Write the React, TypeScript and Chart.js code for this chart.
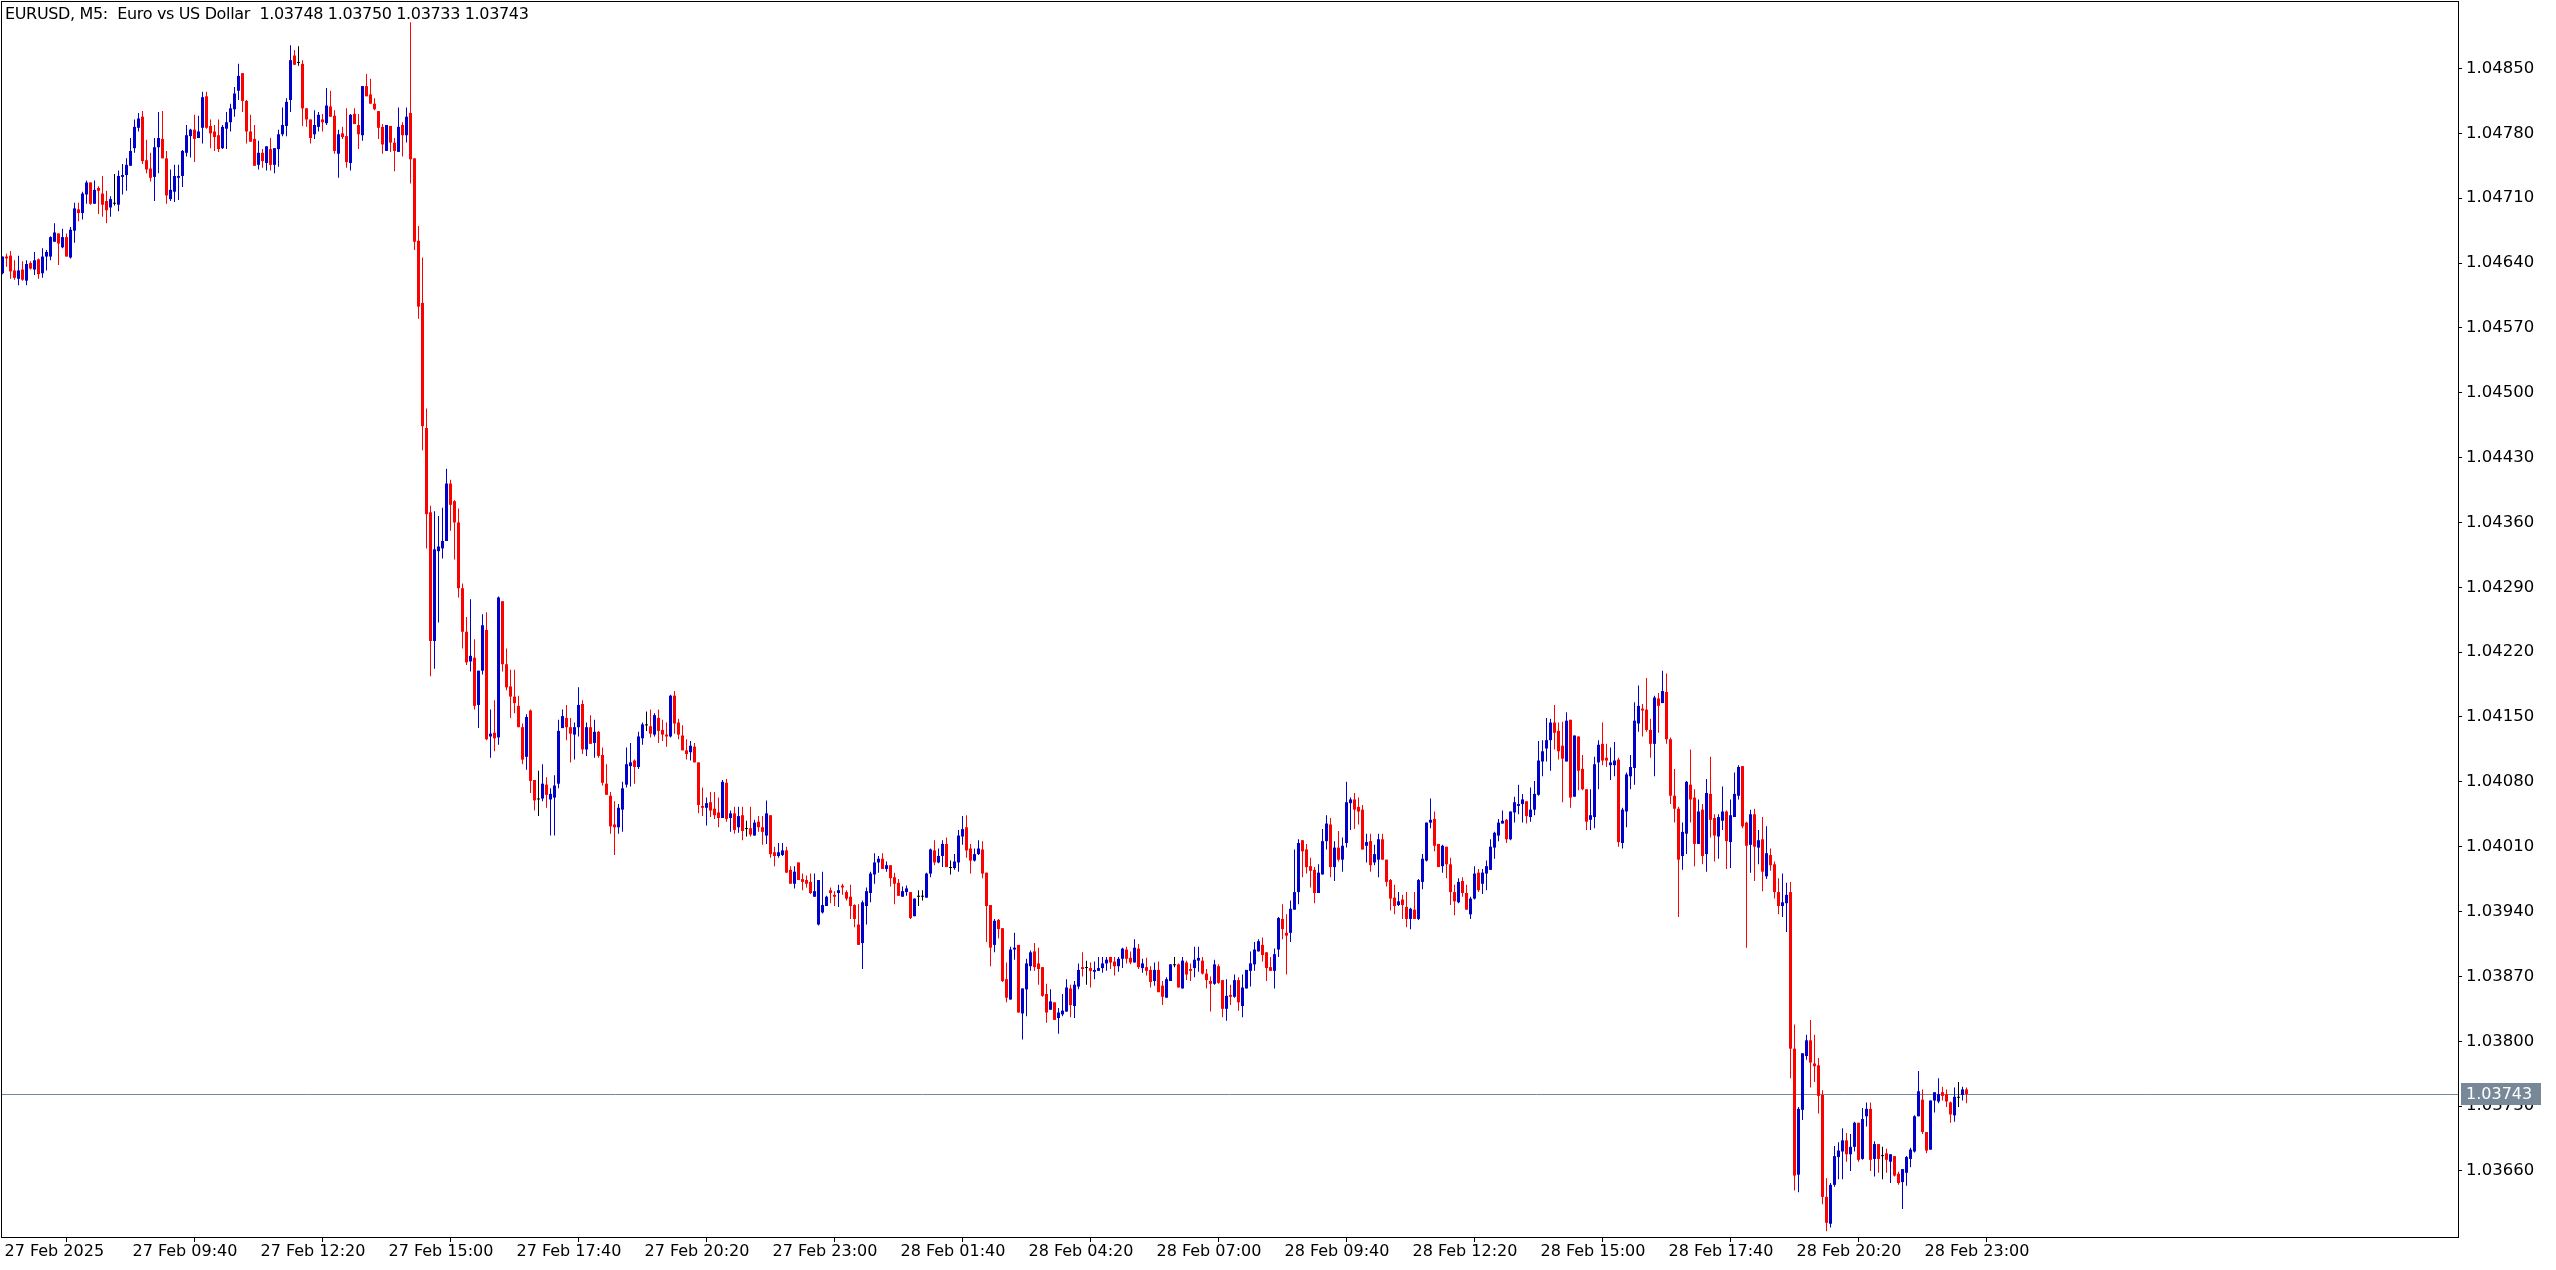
import React, { useEffect, useRef } from "react";
import { Chart, registerables } from "chart.js";
Chart.register(...registerables);

const chartTitle = "EURUSD, M5:  Euro vs US Dollar  1.03748 1.03750 1.03733 1.03743";
const lastPrice = 1.03743;

const xTickIndex = [0, 32, 64, 96, 128, 160, 192, 224, 256, 288, 320, 352, 384, 416, 448, 480];
const xTickLabels = [
  "27 Feb 2025", "27 Feb 09:40", "27 Feb 12:20", "27 Feb 15:00", "27 Feb 17:40", "27 Feb 20:20",
  "27 Feb 23:00", "28 Feb 01:40", "28 Feb 04:20", "28 Feb 07:00", "28 Feb 09:40", "28 Feb 12:20",
  "28 Feb 15:00", "28 Feb 17:40", "28 Feb 20:20", "28 Feb 23:00",
];
const yTickValues = [
  1.0366, 1.0373, 1.038, 1.0387, 1.0394, 1.0401, 1.0408, 1.0415, 1.0422,
  1.0429, 1.0436, 1.0443, 1.045, 1.0457, 1.0464, 1.0471, 1.0478, 1.0485,
];

const opens = [
1.04629,1.04647,1.04648,1.04632,1.04623,1.04633,1.04621,1.04640,1.04633,1.04644,
1.04629,1.04647,1.04647,1.04663,1.04672,1.04657,1.04668,1.04646,1.04675,1.04698,
1.04694,1.04714,1.04727,1.04704,1.04721,1.04715,1.04707,1.04700,1.04704,1.04703,
1.04733,1.04735,1.04745,1.04764,1.04786,1.04798,1.04751,1.04742,1.04733,1.04765,
1.04774,1.04753,1.04709,1.04717,1.04732,1.04734,1.04759,1.04777,1.04784,1.04775,
1.04786,1.04820,1.04788,1.04782,1.04778,1.04764,1.04785,1.04792,1.04806,1.04826,
1.04845,1.04815,1.04782,1.04774,1.04746,1.04759,1.04748,1.04763,1.04746,1.04763,
1.04779,1.04788,1.04816,1.04864,1.04856,1.04855,1.04807,1.04795,1.04779,1.04787,
1.04795,1.04791,1.04809,1.04799,1.04758,1.04780,1.04777,1.04748,1.04801,1.04789,
1.04778,1.04831,1.04822,1.04812,1.04804,1.04787,1.04761,1.04788,1.04770,1.04760,
1.04789,1.04778,1.04802,1.04753,1.04664,1.04597,1.04462,1.04371,1.04232,1.04329,
1.04332,1.04340,1.04402,1.04383,1.04360,1.04289,1.04242,1.04210,1.04214,1.04163,
1.04200,1.04244,1.04129,1.04133,1.04128,1.04275,1.04207,1.04183,1.04172,1.04162,
1.04139,1.04107,1.04157,1.04082,1.04061,1.04062,1.04077,1.04061,1.04063,1.04078,
1.04138,1.04149,1.04139,1.04131,1.04139,1.04164,1.04115,1.04139,1.04122,1.04134,
1.04109,1.04078,1.04065,1.04034,1.04031,1.04050,1.04077,1.04097,1.04103,1.04096,
1.04127,1.04141,1.04140,1.04131,1.04149,1.04136,1.04131,1.04129,1.04173,1.04144,
1.04130,1.04114,1.04112,1.04118,1.04101,1.04054,1.04052,1.04058,1.04051,1.04047,
1.04041,1.04079,1.04041,1.04046,1.04031,1.04044,1.04029,1.04030,1.04022,1.04037,
1.04031,1.04022,1.04044,1.04004,1.04000,1.04001,1.04006,1.03985,1.03970,1.03993,
1.03975,1.03974,1.03972,1.03956,1.03926,1.03939,1.03946,1.03963,1.03958,1.03960,
1.03968,1.03961,1.03956,1.03947,1.03926,1.03906,1.03946,1.03960,1.03980,1.03993,
1.03997,1.03986,1.03990,1.03977,1.03971,1.03956,1.03961,1.03961,1.03935,1.03956,
1.03956,1.03955,1.03981,1.04006,1.03993,1.04000,1.04013,1.03987,1.03987,1.03993,
1.04021,1.04031,1.04008,1.03995,1.04002,1.04007,1.03982,1.03947,1.03904,1.03931,
1.03922,1.03867,1.03845,1.03899,1.03904,1.03830,1.03856,1.03881,1.03897,1.03884,
1.03880,1.03851,1.03834,1.03842,1.03825,1.03829,1.03832,1.03857,1.03838,1.03859,
1.03880,1.03879,1.03879,1.03875,1.03876,1.03879,1.03884,1.03891,1.03886,1.03881,
1.03889,1.03899,1.03890,1.03885,1.03900,1.03879,1.03880,1.03877,1.03865,1.03877,
1.03860,1.03847,1.03865,1.03882,1.03883,1.03857,1.03885,1.03878,1.03879,1.03887,
1.03887,1.03873,1.03865,1.03862,1.03881,1.03866,1.03835,1.03850,1.03848,1.03866,
1.03838,1.03857,1.03876,1.03883,1.03897,1.03904,1.03896,1.03880,1.03876,1.03899,
1.03932,1.03917,1.03917,1.03942,1.03961,1.04017,1.04007,1.03989,1.03985,1.03960,
1.03980,1.04016,1.04034,1.03988,1.04009,1.03996,1.04014,1.04057,1.04061,1.04053,
1.04050,1.04011,1.04016,1.03993,1.03996,1.04018,1.03996,1.03974,1.03955,1.03947,
1.03953,1.03945,1.03932,1.03942,1.03932,1.03972,1.03995,1.04036,1.04040,1.04013,
1.03989,1.04010,1.03991,1.03961,1.03950,1.03973,1.03960,1.03937,1.03954,1.03982,
1.03970,1.03981,1.03985,1.04009,1.04022,1.04035,1.04039,1.04018,1.04047,1.04054,
1.04056,1.04059,1.04042,1.04050,1.04066,1.04102,1.04116,1.04125,1.04144,1.04135,
1.04119,1.04102,1.04147,1.04064,1.04129,1.04094,1.04072,1.04039,1.04042,1.04101,
1.04121,1.04106,1.04098,1.04098,1.04104,1.04014,1.04048,1.04086,1.04095,1.04143,
1.04159,1.04158,1.04136,1.04121,1.04170,1.04165,1.04177,1.04126,1.04065,1.04051,
1.04000,1.04024,1.04077,1.04063,1.04013,1.04050,1.04002,1.04067,1.04041,1.04021,
1.04038,1.04048,1.04015,1.04042,1.04065,1.04097,1.04036,1.04012,1.04045,1.04009,
1.04018,1.03978,1.04001,1.03991,1.03961,1.03946,1.03949,1.03961,1.03792,1.03656,
1.03726,1.03784,1.03801,1.03776,1.03774,1.03742,1.03632,1.03603,1.03645,1.03675,
1.03681,1.03693,1.03678,1.03686,1.03712,1.03673,1.03719,1.03727,1.03673,1.03689,
1.03676,1.03679,1.03670,1.03676,1.03657,1.03648,1.03658,1.03673,1.03681,1.03719,
1.03737,1.03702,1.03683,1.03736,1.03735,1.03745,1.03743,1.03734,1.03720,1.03739,
1.03742,1.03748,
];

const highs = [
1.04647,1.04650,1.04653,1.04643,1.04648,1.04642,1.04643,1.04642,1.04652,1.04645,
1.04656,1.04654,1.04669,1.04683,1.04672,1.04677,1.04672,1.04679,1.04705,1.04705,
1.04717,1.04729,1.04727,1.04729,1.04723,1.04734,1.04718,1.04712,1.04736,1.04740,
1.04747,1.04753,1.04775,1.04795,1.04802,1.04804,1.04773,1.04759,1.04775,1.04803,
1.04804,1.04761,1.04741,1.04746,1.04746,1.04762,1.04789,1.04785,1.04800,1.04799,
1.04825,1.04825,1.04795,1.04789,1.04795,1.04789,1.04803,1.04812,1.04830,1.04855,
1.04845,1.04816,1.04800,1.04789,1.04772,1.04763,1.04766,1.04775,1.04764,1.04784,
1.04808,1.04818,1.04875,1.04870,1.04874,1.04859,1.04807,1.04795,1.04805,1.04803,
1.04801,1.04829,1.04826,1.04805,1.04784,1.04787,1.04807,1.04801,1.04807,1.04801,
1.04831,1.04844,1.04839,1.04818,1.04804,1.04790,1.04789,1.04788,1.04775,1.04808,
1.04792,1.04808,1.04900,1.04753,1.04680,1.04646,1.04483,1.04378,1.04372,1.04367,
1.04376,1.04418,1.04406,1.04384,1.04375,1.04294,1.04258,1.04277,1.04234,1.04200,
1.04261,1.04263,1.04158,1.04168,1.04280,1.04275,1.04224,1.04201,1.04201,1.04173,
1.04143,1.04153,1.04158,1.04082,1.04092,1.04099,1.04085,1.04073,1.04087,1.04147,
1.04158,1.04163,1.04149,1.04144,1.04182,1.04168,1.04144,1.04152,1.04147,1.04135,
1.04117,1.04099,1.04069,1.04059,1.04056,1.04080,1.04117,1.04122,1.04104,1.04134,
1.04144,1.04156,1.04158,1.04154,1.04158,1.04147,1.04144,1.04174,1.04178,1.04148,
1.04141,1.04126,1.04124,1.04122,1.04101,1.04074,1.04063,1.04069,1.04069,1.04063,
1.04082,1.04083,1.04049,1.04053,1.04053,1.04053,1.04038,1.04053,1.04039,1.04043,
1.04043,1.04060,1.04044,1.04010,1.04014,1.04014,1.04010,1.03989,1.03989,1.03993,
1.03981,1.03979,1.03981,1.03981,1.03974,1.03983,1.03957,1.03966,1.03962,1.03969,
1.03970,1.03963,1.03969,1.03948,1.03948,1.03952,1.03966,1.03983,1.04003,1.04000,
1.04003,1.03994,1.03990,1.03982,1.03975,1.03967,1.03968,1.03961,1.03954,1.03963,
1.03963,1.03982,1.04008,1.04017,1.04008,1.04017,1.04020,1.03995,1.04002,1.04028,
1.04043,1.04044,1.04013,1.04008,1.04017,1.04016,1.03982,1.03947,1.03932,1.03932,
1.03922,1.03885,1.03902,1.03917,1.03904,1.03857,1.03889,1.03898,1.03906,1.03901,
1.03880,1.03862,1.03856,1.03842,1.03836,1.03851,1.03867,1.03861,1.03865,1.03884,
1.03896,1.03887,1.03885,1.03886,1.03891,1.03891,1.03891,1.03891,1.03891,1.03891,
1.03901,1.03902,1.03897,1.03910,1.03905,1.03889,1.03890,1.03881,1.03885,1.03886,
1.03865,1.03869,1.03883,1.03891,1.03884,1.03891,1.03887,1.03884,1.03902,1.03902,
1.03891,1.03878,1.03870,1.03888,1.03883,1.03866,1.03867,1.03861,1.03872,1.03869,
1.03872,1.03877,1.03897,1.03907,1.03910,1.03912,1.03896,1.03891,1.03900,1.03934,
1.03948,1.03937,1.03952,1.04007,1.04018,1.04017,1.04013,1.03998,1.03988,1.03991,
1.04029,1.04044,1.04041,1.04016,1.04027,1.04020,1.04080,1.04063,1.04068,1.04063,
1.04055,1.04024,1.04024,1.04012,1.04024,1.04024,1.03996,1.03975,1.03969,1.03961,
1.03958,1.03961,1.03944,1.03961,1.03975,1.04002,1.04036,1.04062,1.04048,1.04013,
1.04012,1.04010,1.03998,1.03969,1.03976,1.03977,1.03969,1.03956,1.03989,1.03986,
1.03986,1.03995,1.04018,1.04026,1.04040,1.04049,1.04040,1.04048,1.04064,1.04077,
1.04067,1.04059,1.04074,1.04081,1.04124,1.04125,1.04149,1.04148,1.04163,1.04144,
1.04145,1.04155,1.04147,1.04130,1.04129,1.04109,1.04072,1.04072,1.04107,1.04125,
1.04144,1.04121,1.04117,1.04123,1.04106,1.04052,1.04090,1.04109,1.04166,1.04184,
1.04164,1.04192,1.04148,1.04173,1.04176,1.04200,1.04197,1.04128,1.04094,1.04053,
1.04036,1.04081,1.04115,1.04072,1.04061,1.04056,1.04083,1.04107,1.04045,1.04045,
1.04075,1.04049,1.04061,1.04090,1.04098,1.04097,1.04037,1.04050,1.04051,1.04028,
1.04042,1.04032,1.04008,1.03994,1.03976,1.03981,1.03971,1.03972,1.03818,1.03729,
1.03787,1.03807,1.03823,1.03807,1.03782,1.03747,1.03652,1.03647,1.03687,1.03691,
1.03706,1.03701,1.03700,1.03713,1.03712,1.03728,1.03734,1.03734,1.03692,1.03689,
1.03686,1.03684,1.03678,1.03676,1.03659,1.03662,1.03676,1.03685,1.03720,1.03768,
1.03748,1.03702,1.03736,1.03745,1.03760,1.03751,1.03748,1.03735,1.03750,1.03756,
1.03751,1.03750,
];

const lows = [
1.04628,1.04636,1.04623,1.04622,1.04616,1.04621,1.04616,1.04633,1.04627,1.04623,
1.04624,1.04632,1.04643,1.04663,1.04638,1.04656,1.04647,1.04645,1.04662,1.04685,
1.04687,1.04704,1.04703,1.04704,1.04693,1.04690,1.04683,1.04690,1.04702,1.04696,
1.04714,1.04718,1.04745,1.04759,1.04782,1.04747,1.04737,1.04728,1.04707,1.04737,
1.04753,1.04704,1.04707,1.04706,1.04708,1.04722,1.04755,1.04754,1.04749,1.04775,
1.04769,1.04785,1.04764,1.04761,1.04760,1.04763,1.04763,1.04782,1.04798,1.04816,
1.04803,1.04769,1.04771,1.04745,1.04741,1.04743,1.04740,1.04740,1.04737,1.04744,
1.04777,1.04777,1.04803,1.04854,1.04853,1.04788,1.04787,1.04769,1.04774,1.04782,
1.04782,1.04789,1.04798,1.04758,1.04732,1.04774,1.04743,1.04740,1.04790,1.04763,
1.04772,1.04820,1.04812,1.04805,1.04774,1.04758,1.04761,1.04760,1.04739,1.04760,
1.04755,1.04770,1.04726,1.04654,1.04580,1.04438,1.04332,1.04194,1.04202,1.04252,
1.04321,1.04340,1.04351,1.04320,1.04279,1.04224,1.04206,1.04199,1.04158,1.04138,
1.04196,1.04125,1.04106,1.04113,1.04120,1.04199,1.04179,1.04149,1.04154,1.04139,
1.04099,1.04093,1.04068,1.04049,1.04043,1.04059,1.04052,1.04022,1.04022,1.04073,
1.04138,1.04125,1.04101,1.04104,1.04129,1.04110,1.04108,1.04121,1.04106,1.04106,
1.04076,1.04066,1.04024,1.04001,1.04024,1.04026,1.04074,1.04075,1.04078,1.04094,
1.04120,1.04135,1.04128,1.04129,1.04122,1.04124,1.04118,1.04128,1.04132,1.04126,
1.04114,1.04104,1.04103,1.04101,1.04046,1.04043,1.04033,1.04042,1.04040,1.04031,
1.04041,1.04037,1.04026,1.04024,1.04025,1.04017,1.04021,1.04021,1.04022,1.04026,
1.04012,1.04013,1.03998,1.03989,1.03998,1.04000,1.03982,1.03970,1.03965,1.03974,
1.03963,1.03966,1.03959,1.03956,1.03925,1.03938,1.03946,1.03949,1.03946,1.03945,
1.03958,1.03952,1.03932,1.03923,1.03904,1.03878,1.03926,1.03950,1.03970,1.03982,
1.03986,1.03983,1.03967,1.03948,1.03957,1.03956,1.03957,1.03932,1.03935,1.03946,
1.03952,1.03955,1.03977,1.03990,1.03992,1.03988,1.03988,1.03980,1.03985,1.03983,
1.04012,1.03998,1.03981,1.03994,1.04001,1.03976,1.03907,1.03881,1.03896,1.03911,
1.03864,1.03842,1.03845,1.03888,1.03831,1.03802,1.03827,1.03876,1.03876,1.03861,
1.03848,1.03820,1.03834,1.03823,1.03808,1.03827,1.03832,1.03826,1.03825,1.03856,
1.03870,1.03861,1.03858,1.03867,1.03876,1.03874,1.03876,1.03878,1.03871,1.03875,
1.03879,1.03884,1.03883,1.03885,1.03878,1.03874,1.03871,1.03858,1.03860,1.03853,
1.03839,1.03847,1.03865,1.03880,1.03858,1.03857,1.03866,1.03865,1.03869,1.03875,
1.03872,1.03857,1.03832,1.03861,1.03862,1.03826,1.03822,1.03839,1.03847,1.03833,
1.03826,1.03857,1.03859,1.03876,1.03897,1.03886,1.03865,1.03876,1.03857,1.03891,
1.03910,1.03872,1.03907,1.03942,1.03948,1.03977,1.03981,1.03966,1.03949,1.03960,
1.03980,1.04007,1.03977,1.03973,1.03994,1.03983,1.04009,1.04028,1.04029,1.04034,
1.04007,1.03993,1.03983,1.03990,1.03977,1.03996,1.03967,1.03941,1.03937,1.03946,
1.03932,1.03923,1.03921,1.03932,1.03931,1.03964,1.03994,1.04030,1.04005,1.03988,
1.03982,1.03976,1.03947,1.03936,1.03949,1.03956,1.03942,1.03932,1.03953,1.03961,
1.03959,1.03963,1.03985,1.03997,1.04016,1.04035,1.04014,1.04017,1.04036,1.04045,
1.04036,1.04035,1.04037,1.04044,1.04065,1.04086,1.04102,1.04092,1.04115,1.04104,
1.04058,1.04102,1.04052,1.04064,1.04071,1.04071,1.04028,1.04028,1.04030,1.04072,
1.04098,1.04096,1.04082,1.04086,1.04010,1.04008,1.04031,1.04072,1.04077,1.04134,
1.04129,1.04134,1.04106,1.04086,1.04133,1.04165,1.04121,1.04056,1.04036,1.03934,
1.03985,1.04002,1.04036,1.03989,1.04013,1.03991,1.03983,1.04020,1.03994,1.03997,
1.04028,1.03986,1.03987,1.04042,1.04061,1.04030,1.03901,1.03982,1.03973,1.03991,
1.03962,1.03975,1.03984,1.03954,1.03937,1.03934,1.03918,1.03760,1.03639,1.03637,
1.03715,1.03780,1.03750,1.03756,1.03722,1.03624,1.03595,1.03599,1.03643,1.03651,
1.03651,1.03670,1.03660,1.03681,1.03670,1.03672,1.03708,1.03660,1.03654,1.03658,
1.03651,1.03658,1.03647,1.03654,1.03645,1.03619,1.03644,1.03664,1.03680,1.03719,
1.03700,1.03679,1.03683,1.03723,1.03733,1.03736,1.03729,1.03712,1.03713,1.03729,
1.03736,1.03733,
];

const closes = [
1.04647,1.04645,1.04631,1.04624,1.04632,1.04622,1.04639,1.04634,1.04643,1.04628,
1.04647,1.04652,1.04668,1.04673,1.04661,1.04668,1.04647,1.04676,1.04699,1.04694,
1.04715,1.04727,1.04704,1.04719,1.04718,1.04703,1.04697,1.04709,1.04704,1.04734,
1.04735,1.04746,1.04761,1.04787,1.04796,1.04750,1.04741,1.04732,1.04765,1.04775,
1.04753,1.04713,1.04719,1.04734,1.04734,1.04761,1.04778,1.04784,1.04774,1.04782,
1.04819,1.04786,1.04780,1.04776,1.04763,1.04787,1.04792,1.04807,1.04823,1.04842,
1.04815,1.04782,1.04771,1.04745,1.04759,1.04750,1.04766,1.04746,1.04764,1.04779,
1.04789,1.04814,1.04859,1.04854,1.04856,1.04807,1.04795,1.04775,1.04789,1.04800,
1.04792,1.04810,1.04798,1.04761,1.04779,1.04776,1.04749,1.04800,1.04790,1.04779,
1.04831,1.04820,1.04812,1.04806,1.04786,1.04768,1.04789,1.04770,1.04761,1.04787,
1.04778,1.04798,1.04752,1.04663,1.04593,1.04464,1.04369,1.04232,1.04331,1.04334,
1.04340,1.04402,1.04379,1.04360,1.04289,1.04242,1.04209,1.04216,1.04162,1.04200,
1.04249,1.04126,1.04132,1.04127,1.04279,1.04207,1.04182,1.04172,1.04165,1.04139,
1.04104,1.04150,1.04081,1.04060,1.04061,1.04078,1.04066,1.04067,1.04076,1.04135,
1.04151,1.04139,1.04132,1.04139,1.04163,1.04115,1.04139,1.04121,1.04134,1.04108,
1.04079,1.04066,1.04032,1.04031,1.04052,1.04073,1.04099,1.04101,1.04096,1.04129,
1.04142,1.04141,1.04132,1.04152,1.04135,1.04131,1.04129,1.04173,1.04143,1.04131,
1.04114,1.04110,1.04119,1.04101,1.04055,1.04052,1.04057,1.04049,1.04044,1.04041,
1.04080,1.04040,1.04046,1.04028,1.04043,1.04027,1.04029,1.04023,1.04036,1.04031,
1.04026,1.04046,1.04002,1.04000,1.04004,1.04006,1.03982,1.03970,1.03983,1.03974,
1.03972,1.03970,1.03960,1.03962,1.03974,1.03947,1.03956,1.03960,1.03956,1.03963,
1.03966,1.03954,1.03946,1.03932,1.03904,1.03950,1.03962,1.03981,1.03993,1.03997,
1.03986,1.03990,1.03976,1.03970,1.03957,1.03962,1.03965,1.03933,1.03954,1.03956,
1.03956,1.03981,1.04007,1.03993,1.04000,1.04013,1.03988,1.03987,1.03994,1.04022,
1.04029,1.04006,1.03995,1.04002,1.04008,1.03981,1.03946,1.03901,1.03930,1.03921,
1.03865,1.03847,1.03899,1.03901,1.03831,1.03857,1.03884,1.03896,1.03880,1.03878,
1.03849,1.03831,1.03843,1.03823,1.03831,1.03833,1.03858,1.03839,1.03861,1.03877,
1.03878,1.03879,1.03876,1.03877,1.03879,1.03884,1.03888,1.03885,1.03881,1.03889,
1.03900,1.03889,1.03885,1.03901,1.03880,1.03884,1.03876,1.03864,1.03877,1.03853,
1.03848,1.03867,1.03883,1.03882,1.03858,1.03887,1.03872,1.03876,1.03888,1.03890,
1.03873,1.03866,1.03862,1.03883,1.03863,1.03835,1.03849,1.03848,1.03866,1.03842,
1.03858,1.03877,1.03884,1.03899,1.03908,1.03893,1.03879,1.03876,1.03894,1.03933,
1.03921,1.03914,1.03943,1.03961,1.04014,1.04005,1.03988,1.03984,1.03960,1.03982,
1.04016,1.04035,1.03988,1.04009,1.03996,1.04011,1.04058,1.04061,1.04050,1.04048,
1.04007,1.04015,1.03990,1.04002,1.04018,1.03996,1.03972,1.03954,1.03946,1.03951,
1.03947,1.03932,1.03943,1.03932,1.03974,1.03997,1.04036,1.04039,1.04011,1.03988,
1.04011,1.03991,1.03961,1.03951,1.03972,1.03960,1.03942,1.03954,1.03981,1.03963,
1.03982,1.03989,1.04010,1.04025,1.04036,1.04038,1.04018,1.04048,1.04058,1.04056,
1.04061,1.04043,1.04050,1.04067,1.04103,1.04113,1.04125,1.04144,1.04133,1.04113,
1.04105,1.04146,1.04063,1.04130,1.04092,1.04072,1.04037,1.04044,1.04099,1.04120,
1.04103,1.04103,1.04101,1.04103,1.04015,1.04050,1.04088,1.04096,1.04146,1.04162,
1.04157,1.04136,1.04121,1.04171,1.04162,1.04178,1.04126,1.04065,1.04051,1.03996,
1.04026,1.04080,1.04061,1.04013,1.04048,1.04000,1.04068,1.04039,1.04022,1.04042,
1.04048,1.04016,1.04044,1.04067,1.04096,1.04032,1.04011,1.04045,1.04010,1.04017,
1.03983,1.04003,1.03990,1.03961,1.03946,1.03950,1.03958,1.03792,1.03655,1.03727,
1.03787,1.03801,1.03777,1.03773,1.03741,1.03632,1.03604,1.03645,1.03676,1.03682,
1.03693,1.03678,1.03686,1.03712,1.03672,1.03716,1.03727,1.03672,1.03689,1.03673,
1.03676,1.03672,1.03678,1.03655,1.03647,1.03662,1.03675,1.03683,1.03719,1.03746,
1.03702,1.03682,1.03736,1.03745,1.03743,1.03741,1.03735,1.03721,1.03740,1.03739,
1.03748,1.03743,
];

const W = 2556;
const H = 1270;
const AXIS_W = 98;
const AXIS_H = 33;
const BULL = "#0000cc";
const BEAR = "#ff0000";
const DOJI = "#000000";
const PRICE_LINE = "#778899";
const FONT = "DejaVu Sans";
const Y_MIN = 1.035887;
const Y_MAX = 1.0492286;
const X_MIN = -0.375;
const X_MAX = X_MIN + (W - AXIS_W - 1) / 4;

export default function App() {
  const ref = useRef<HTMLCanvasElement>(null);

  useEffect(() => {
    document.body.style.margin = "0";
    const canvas = ref.current;
    if (!canvas) return;

    const colors = opens.map((o, i) => (closes[i] > o ? BULL : closes[i] < o ? BEAR : DOJI));
    const bodyData = opens.map((o, i) => ({ x: i, y: [o, closes[i]] }));
    const wickData = lows.map((l, i) => ({ x: i, y: [l, highs[i]] }));

    const decor = {
      id: "mtDecor",
      beforeDatasetsDraw(chart: any) {
        const { ctx, chartArea, scales } = chart;
        const y = Math.round(scales.y.getPixelForValue(lastPrice)) + 0.5;
        ctx.save();
        ctx.strokeStyle = PRICE_LINE;
        ctx.lineWidth = 1;
        ctx.beginPath();
        ctx.moveTo(chartArea.left, y);
        ctx.lineTo(chartArea.right, y);
        ctx.stroke();
        ctx.restore();
      },
      afterDraw(chart: any) {
        const { ctx, chartArea, scales } = chart;
        ctx.save();
        ctx.strokeStyle = "#000";
        ctx.lineWidth = 1;
        ctx.strokeRect(
          chartArea.left + 0.5,
          chartArea.top + 0.5,
          chartArea.right - chartArea.left,
          chartArea.bottom - chartArea.top
        );
        ctx.fillStyle = "#000";
        ctx.font = `16px "${FONT}"`;
        ctx.textAlign = "left";
        ctx.textBaseline = "alphabetic";
        try { (ctx as any).letterSpacing = "-0.35px"; } catch (e) { /* ignore */ }
        ctx.fillText(chartTitle, 5, 19);
        try { (ctx as any).letterSpacing = "0px"; } catch (e) { /* ignore */ }
        const y = Math.round(scales.y.getPixelForValue(lastPrice));
        ctx.fillStyle = PRICE_LINE;
        ctx.fillRect(chartArea.right + 3, y - 11, 80, 22);
        ctx.fillStyle = "#ffffff";
        ctx.textBaseline = "middle";
        ctx.fillText(lastPrice.toFixed(5), chartArea.right + 8, y + 1);
        ctx.restore();
      },
    };

    const tickFont = { family: FONT, size: 16 };

    const chart = new Chart(canvas, {
      type: "bar",
      data: {
        datasets: [
          {
            data: bodyData as any,
            backgroundColor: colors,
            borderWidth: 0,
            grouped: false,
            categoryPercentage: 1,
            barPercentage: 0.75,
            maxBarThickness: 3,
            minBarLength: 1,
            inflateAmount: 0,
            order: 0,
          } as any,
          {
            data: wickData as any,
            backgroundColor: colors,
            borderWidth: 0,
            grouped: false,
            categoryPercentage: 1,
            barPercentage: 0.25,
            maxBarThickness: 1,
            minBarLength: 1,
            inflateAmount: 0,
            order: 1,
          } as any,
        ],
      },
      options: {
        responsive: false,
        maintainAspectRatio: false,
        devicePixelRatio: 1,
        animation: false,
        events: [],
        layout: { padding: { left: 1, top: 1, right: 0, bottom: 0 } },
        plugins: { legend: { display: false }, tooltip: { enabled: false }, title: { display: false } },
        scales: {
          x: {
            type: "linear",
            position: "bottom",
            min: X_MIN,
            max: X_MAX,
            offset: false,
            afterFit: (s: any) => {
              s.height = AXIS_H;
              s.paddingLeft = 0;
              s.paddingRight = 0;
              s.paddingTop = 0;
              s.paddingBottom = 0;
            },
            afterBuildTicks: (s: any) => {
              s.ticks = xTickIndex.map((v) => ({ value: v }));
            },
            grid: { display: true, drawOnChartArea: false, drawTicks: true, tickLength: 5, color: "#000", lineWidth: 1 },
            border: { display: false },
            ticks: {
              autoSkip: false,
              maxRotation: 0,
              minRotation: 0,
              align: "start",
              labelOffset: 2,
              padding: 0,
              color: "#000",
              font: tickFont,
              callback: (v: any) => {
                const k = xTickIndex.indexOf(Number(v));
                return k >= 0 ? xTickLabels[k] : "";
              },
            },
          } as any,
          y: {
            type: "linear",
            position: "right",
            min: Y_MIN,
            max: Y_MAX,
            afterFit: (s: any) => {
              s.width = AXIS_W;
              s.paddingLeft = 0;
              s.paddingRight = 0;
              s.paddingTop = 0;
              s.paddingBottom = 0;
            },
            afterBuildTicks: (s: any) => {
              s.ticks = yTickValues.map((v) => ({ value: v }));
            },
            grid: { display: true, drawOnChartArea: false, drawTicks: true, tickLength: 4, color: "#000", lineWidth: 1 },
            border: { display: false },
            ticks: {
              padding: 4,
              color: "#000",
              font: { family: FONT, size: 16.5 },
              callback: (v: any) => Number(v).toFixed(5),
            },
          } as any,
        },
      },
      plugins: [decor],
    });

    return () => chart.destroy();
  }, []);

  return <canvas ref={ref} width={W} height={H} style={{ display: "block", width: W, height: H }} />;
}
